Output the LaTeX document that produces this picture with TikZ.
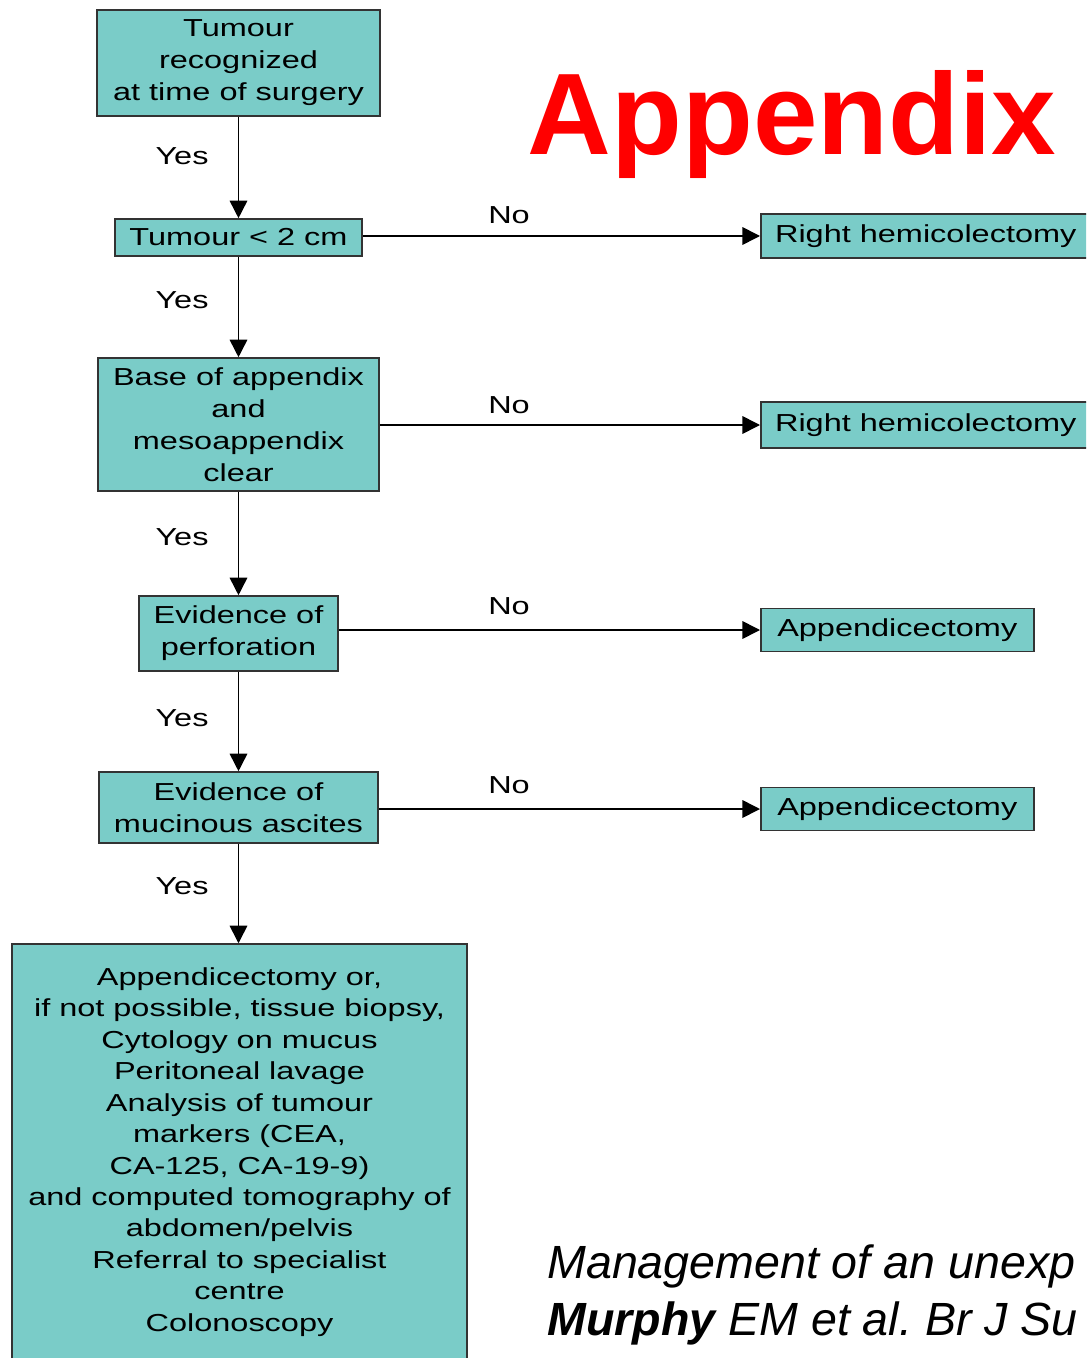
\documentclass[tikz,border=0pt]{standalone}
\usepackage{fontspec}
\setmainfont{Liberation Sans}
\newfontfamily\wideface[FakeStretch=1.32]{Liberation Sans}
\usetikzlibrary{arrows.meta}
\definecolor{boxteal}{RGB}{122,204,200}
\definecolor{titlered}{RGB}{255,0,0}
\frenchspacing

\begin{document}
\begin{tikzpicture}[x=0.02cm,y=-0.02cm,
    flowbox/.style={draw=black!80,line width=0.9pt,fill=boxteal,align=center,
      inner sep=0pt,font=\wideface\fontsize{14}{18.2}\selectfont},
    sidebox/.style={flowbox,anchor=west},
    lab/.style={font=\wideface\fontsize{14}{18.2}\selectfont},
    flow/.style={line width=0.9pt,-{Triangle[length=10pt,width=10pt]}}]
        \useasboundingbox (0,0) rectangle (1086,1358);
        \clip (0,0) rectangle (1086,1358);
        % title
        \node[text=titlered,anchor=base,font=\fontsize{66}{70}\selectfont\bfseries] (head) at (792,155) {Appendix};
        % main column
        \node[flowbox,minimum width=5.66cm,minimum height=2.12cm] (surg) at (238.5,63) {Tumour\\recognized\\at time of surgery};
        \node[flowbox,minimum width=4.94cm,minimum height=0.74cm] (small) at (238.5,237.5) {Tumour < 2 cm};
        \node[flowbox,minimum width=5.62cm,minimum height=2.66cm] (base) at (238.5,424.5) {Base of appendix\\and\\mesoappendix\\clear};
        \node[flowbox,minimum width=3.98cm,minimum height=1.5cm] (perf) at (238.5,633.5) {Evidence of\\perforation};
        \node[flowbox,minimum width=5.58cm,minimum height=1.42cm] (asc) at (238.5,807.5) {Evidence of\\mucinous ascites};
        \node[flowbox,minimum width=9.1cm,minimum height=8.32cm,
          font=\wideface\fontsize{14}{17.9}\selectfont] (final) at (239.5,1152) {Appendicectomy or,\\if not possible, tissue biopsy,\\Cytology on mucus\\Peritoneal lavage\\Analysis of tumour\\markers (CEA,\\CA-125, CA-19-9)\\and computed tomography of\\abdomen/pelvis\\Referral to specialist\\centre\\Colonoscopy};
        % outcomes on the right
        \node[sidebox,minimum width=6.6cm,minimum height=0.88cm] (r1) at (760,236) {Right hemicolectomy};
        \node[sidebox,minimum width=6.6cm,minimum height=0.92cm] (r2) at (760,425) {Right hemicolectomy};
        \node[sidebox,minimum width=5.46cm,minimum height=0.86cm] (r3) at (760,630) {Appendicectomy};
        \node[sidebox,minimum width=5.46cm,minimum height=0.86cm] (r4) at (760,809) {Appendicectomy};
        % yes branches
        \draw[flow] (surg.south) -- (small.north);
        \draw[flow] (small.south) -- (base.north);
        \draw[flow] (base.south) -- (perf.north);
        \draw[flow] (perf.south) -- (asc.north);
        \draw[flow] (asc.south) -- (asc.south |- final.north);
        \node[lab] (yes1) at (182,156) {Yes};
        \node[lab] (yes2) at (182,300) {Yes};
        \node[lab] (yes3) at (182,537) {Yes};
        \node[lab] (yes4) at (182,718) {Yes};
        \node[lab] (yes5) at (182,886) {Yes};
        % no branches
        \draw[flow] (small.east |- r1.west) -- (r1.west);
        \draw[flow] (base.east |- r2.west) -- (r2.west);
        \draw[flow] (perf.east |- r3.west) -- (r3.west);
        \draw[flow] (asc.east |- r4.west) -- (r4.west);
        \node[lab] (no1) at (509,215) {No};
        \node[lab] (no2) at (509,405) {No};
        \node[lab] (no3) at (509,606) {No};
        \node[lab] (no4) at (509,785) {No};
        % reference
        \node[anchor=base west,inner sep=0pt,font=\fontsize{26.5}{30}\selectfont\itshape] (cite1) at (547,1278) {Management of an unexp};
        \node[anchor=base west,inner sep=0pt,font=\fontsize{26.5}{30}\selectfont\itshape] (cite2) at (547,1335) {\bfseries Murphy\mdseries{} EM et al. Br J Su};
      \end{tikzpicture}
\end{document}
